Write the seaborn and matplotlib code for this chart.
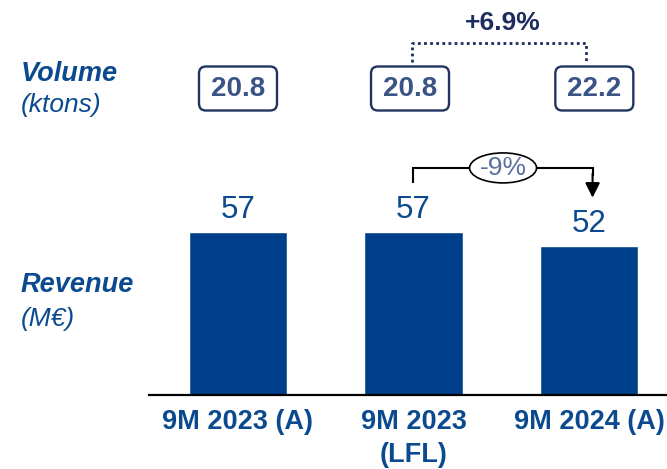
import matplotlib
matplotlib.use("Agg")
import matplotlib.pyplot as plt
from matplotlib.patches import FancyBboxPatch, Ellipse
import seaborn as sns
import pandas as pd

# ---- data ----
periods = ["9M 2023 (A)", "9M 2023\n(LFL)", "9M 2024 (A)"]
revenue = [57, 57, 52]          # M€
volume = [20.8, 20.8, 22.2]     # ktons
volume_change = "+6.9%"
revenue_change = "-9%"

BAR = "#00408a"
LABEL_BLUE = "#0b4a8f"
NAVY = "#1a2d5e"
SLATE = "#3a5585"

sns.set_theme(style="white")
plt.rcParams["font.family"] = ["Liberation Sans", "DejaVu Sans"]

W, H = 667, 469
fig = plt.figure(figsize=(W / 100, H / 100), dpi=100)

def fx(px):
    return px / W

def fy(py):
    return 1 - py / H

# axes spans from the baseline up to the top edge of the figure
base_px = 395
ax = fig.add_axes([fx(149), fy(base_px), fx(667) - fx(149), base_px / H])

df = pd.DataFrame({"period": periods, "revenue": revenue})
sns.barplot(data=df, x="period", y="revenue", color=BAR, width=0.56,
            saturation=1, ax=ax)

px_per_unit = 2.86
ax.set_ylim(0, base_px / px_per_unit)
ax.set_xlim(-0.507, 2.444)

for s in ["top", "left", "right"]:
    ax.spines[s].set_visible(False)
ax.spines["bottom"].set_color("black")
ax.spines["bottom"].set_linewidth(1.6)
ax.set_yticks([])
ax.set_xlabel("")
ax.set_ylabel("")
ax.tick_params(axis="x", length=0, pad=10)
ax.set_xticks(range(len(periods)))
ax.set_xticklabels(periods, fontsize=19.5, fontweight="bold", color=LABEL_BLUE,
                   linespacing=1.35, va="top")

# revenue values above bars
for i, v in enumerate(revenue):
    ax.text(i, v + 5.0, f"{v}", ha="center", va="baseline",
            fontsize=22.5, color=LABEL_BLUE)

# revenue change bracket with arrow
y_top = 79.4
x_right = 2.02
ax.plot([0.995, 0.995, x_right, x_right], [revenue[1] + 17, y_top, y_top, y_top - 3],
        color="black", lw=1.5, solid_capstyle="butt", solid_joinstyle="miter")
ax.annotate("", xy=(x_right, revenue[2] + 17), xytext=(x_right, y_top - 2),
            arrowprops=dict(arrowstyle="-|>", color="black", lw=1.5,
                            mutation_scale=22, shrinkA=0, shrinkB=0))

fig.canvas.draw()
to_in = fig.dpi_scale_trans.inverted()

def data_to_inches(x, y):
    return to_in.transform(ax.transData.transform((x, y)))

ex, ey = data_to_inches(1.51, y_top)
ax.add_patch(Ellipse((ex, ey), 67 / 100, 30 / 100, transform=fig.dpi_scale_trans,
                     facecolor="white", edgecolor="black", lw=1.2, zorder=5,
                     clip_on=False))
fig.text(ex / (W / 100), ey / (H / 100), revenue_change, ha="center", va="center",
         fontsize=19, color="#5a6f9e", zorder=6)

# volume boxes
box_w, box_h = 78, 44
box_cy = 88.5
for i, v in enumerate(volume):
    cx_in, _ = data_to_inches(i + (0.0 if i == 0 else (-0.02 if i == 1 else 0.03)), 0)
    cy_in = (H - box_cy) / 100
    patch = FancyBboxPatch((cx_in - box_w / 200, cy_in - box_h / 200),
                           box_w / 100, box_h / 100,
                           boxstyle="round,pad=0,rounding_size=0.07",
                           transform=fig.dpi_scale_trans, facecolor="white",
                           edgecolor="#1f3560", lw=1.7, clip_on=False)
    fig.add_artist(patch)
    fig.text(cx_in / (W / 100), cy_in / (H / 100), f"{v}", ha="center",
             va="center", fontsize=20, fontweight="bold", color=SLATE)

# volume change bracket (dotted)
xl = 412 / W
xr = 586 / W
fig.add_artist(plt.Line2D([xl, xl, xr, xr], [fy(62), fy(43), fy(43), fy(62)],
                          transform=fig.transFigure, color=NAVY, lw=2,
                          linestyle=(0, (1, 1.2))))
fig.text(fx(503), fy(23), volume_change, ha="center", va="center",
         fontsize=19, fontweight="bold", color=NAVY)

# row labels
fig.text(fx(21), fy(74), "Volume", ha="left", va="center", fontsize=19.5,
         fontweight="bold", fontstyle="italic", color=LABEL_BLUE)
fig.text(fx(21), fy(105), "(ktons)", ha="left", va="center", fontsize=19,
         fontstyle="italic", color=LABEL_BLUE)
fig.text(fx(21), fy(285), "Revenue", ha="left", va="center", fontsize=19.5,
         fontweight="bold", fontstyle="italic", color=LABEL_BLUE)
fig.text(fx(21), fy(319), "(M€)", ha="left", va="center", fontsize=19,
         fontstyle="italic", color=LABEL_BLUE)

fig.savefig("out.png", dpi=100)
